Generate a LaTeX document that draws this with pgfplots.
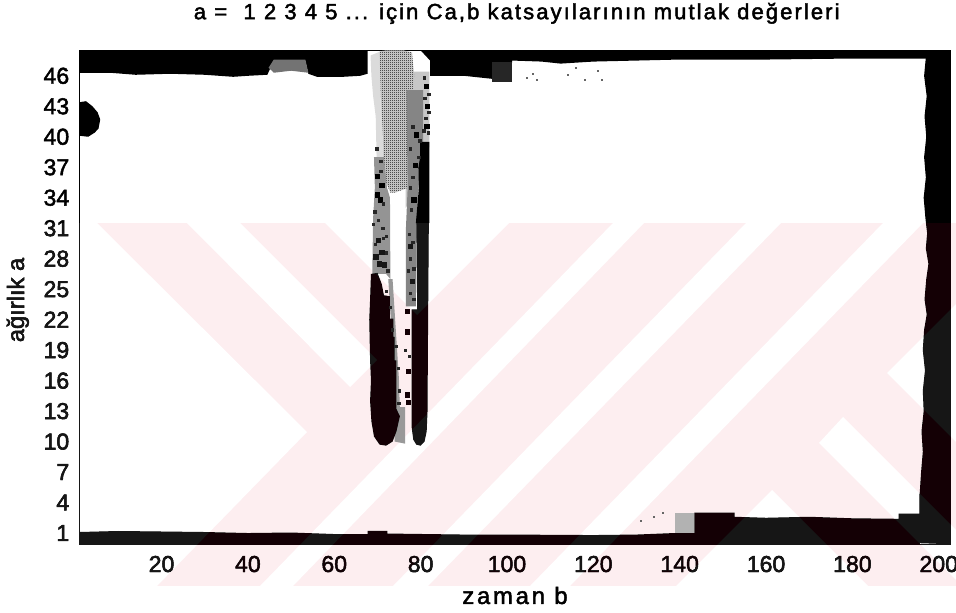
\documentclass[border=0pt]{standalone}
\usepackage{fontspec}
\usepackage{pgfplots}
\pgfplotsset{compat=1.18}
\usetikzlibrary{patterns}
\setmainfont{Liberation Sans}
\newfontfamily\tkf{Liberation Sans}
\newfontfamily\lblf[LetterSpace=9.5]{Liberation Sans}
\newfontfamily\lblxf[LetterSpace=12]{Liberation Sans}
\newcommand\heavy{\special{pdf:code 2 Tr 0.35 w}}
\newcommand\tk{\tkf\heavy}
\newcommand\lbl{\lblf\heavy}
\newcommand\lblx{\lblxf\heavy}
\pgfdeclarepatternformonly{stA}{\pgfpointorigin}{\pgfqpoint{1.5pt}{1.5pt}}{\pgfqpoint{1.5pt}{1.5pt}}{%
 \pgfpathrectangle{\pgfqpoint{0pt}{0pt}}{\pgfqpoint{.75pt}{.75pt}}%
 \pgfpathrectangle{\pgfqpoint{.75pt}{.75pt}}{\pgfqpoint{.75pt}{.75pt}}\pgfusepath{fill}}
\definecolor{wm}{HTML}{FDEEF0}
\definecolor{onpink}{HTML}{140005}
\definecolor{onwhite}{HTML}{161616}
\newcommand\whitecuts[1]{%
 \fill[#1] (-2,223)--(97,223)--(307,432)--(157,586)--(-2,586)--cycle;
 \fill[#1] (187,223)--(350,387)--(377,360)--(240,223)--cycle;
 \fill[#1] (325,223)--(509,223)--(417,315)--cycle;
 \fill[#1] (260,586)--(613,223)--(644,223)--(293,586)--cycle;
 \fill[#1] (393,586)--(746,223)--(781,223)--(428,586)--cycle;
 \fill[#1] (530,586)--(883,223)--(923,223)--(570,586)--cycle;
 \fill[#1] (772,490)--(676,586)--(868,586)--cycle;
 \fill[#1] (887,373)--(958,302)--(958,444)--cycle;
 \fill[#1] (819,443)--(843,417)--(958,532)--(958,586)--(962,586)--cycle;
}
\begin{document}
\begin{tikzpicture}
\useasboundingbox (0,0) rectangle (717pt,459pt);
\begin{scope}[x=.75pt,y=-.75pt,yshift=459pt]
\clip (0,0) rectangle (956,612);
\fill[wm] (0,223) rectangle (956,586);
\whitecuts{white}
\fill[white] (0,585.5) rectangle (956,612);
\end{scope}
\begin{axis}[
  at={(59.625pt,50.85pt)},anchor=south west,
  scale only axis,width=653.2pt,height=370.35pt,
  xmin=1,xmax=202.7,ymin=-0.1,ymax=48.5,
  xtick={20,40,...,200},ytick={1,4,...,46},
  major tick length=0pt,
  axis line style={black,line width=.8pt},
  /pgf/number format/assume math mode=true,
  ticklabel style={font=\tk\fontsize{17.3}{20}\selectfont,inner sep=0pt},
  xticklabel style={anchor=base,yshift=-20.85pt},
  yticklabel style={anchor=east,xshift=-7.5pt},
  title={a =\ \ 1 2 3 4 5 ... için Ca,b katsayılarının mutlak değerleri},
  title style={at={(axis description cs:0.502,1.047)},anchor=base,yshift=0pt,font=\lbl\fontsize{16.5}{18}\selectfont},
  xlabel={zaman b},
  xlabel style={at={(axis description cs:0.5,-0.121)},anchor=base,font=\lblx\fontsize{17.8}{18}\selectfont},
  ylabel={ağırlık a},
  ylabel style={at={(axis description cs:-0.0637,0.4945)},anchor=base,font=\tk\fontsize{17.8}{18}\selectfont},
  every axis plot/.append style={forget plot,draw=none},
]
% faint fringe of the central ridge
\addplot[fill=black!14] coordinates {(68.4,48)(70.7,48.4)(72,34)(69.4,34)(69.8,38)(69.6,42)(69,44)(68.6,46)};
\addplot[fill=black!22] coordinates {(76.5,46.4)(82,46.4)(82,39)(80,35)(76.5,33)};
% core stipple
\addplot[fill=black!12] coordinates {(70.5,48.4)(72,48.5)(76,48.5)(78,48.3)(78.5,46)(78,44)(77.5,38)(77.3,35)(74,34.5)(73,34.5)(71.5,36)(71.3,40)(70.8,44)};
\addplot[pattern=stA] coordinates {(70.5,48.4)(72,48.5)(76,48.5)(78,48.3)(78.5,46)(78,44)(77.5,38)(77.3,35)(74,34.5)(73,34.5)(71.5,36)(71.3,40)(70.8,44)};
% flanks of medium density
\addplot[fill=black!42] coordinates {(69.2,38)(71.5,38)(72.2,35)(72.9,34)(73,26)(72,26.5)(68.8,26.5)(69,32)(69.4,35)};
\addplot[fill=black!48] coordinates {(76.7,44.6)(80.6,44.6)(80.6,39)(79.5,35)(79,31)(78.9,23.3)(76.6,23.3)(76.6,31)(77,35)};
\addplot[fill=black!40] coordinates {(72.5,26)(73.5,26)(75,16)(75.2,13)(74.2,13)(74,16)};
\addplot[fill=black!40] coordinates {(74,13.4)(76.4,13.4)(76.4,9.8)(74,10)};
% mottled dark grains of the flanks
\addplot[only marks,mark=square*,mark size=1.6pt,black,draw=black] coordinates {
(69.9,36.1)(71,35.2)(70,34.3)(70.6,33.8)(70.2,29.8)(71,28.6)(69.6,28.2)(70.4,27.5)(71.6,27.4)
(79,40.2)(78.7,37.2)(78.4,33.8)(77.6,29.2)(78,25.8)
(81.3,45)(81.6,43)(81.4,41)(76.9,22.8)(76.9,20.8)(77.1,16.9)(76.9,14.6)(77.2,13.9)};
\addplot[only marks,mark=square*,mark size=0.9pt,black!85,draw=black!85] coordinates {
(70.8,36.6)(71.4,33.4)(69.4,32.6)(70.2,31.8)(71.2,31)(72,30.2)(69,31.4)(69.5,29.4)(71.4,30)(72.4,26.8)(72,28.6)
(70.8,37.6)(69.8,38.8)(72,24.8)(73,23.2)(73.4,21)(74.2,19.4)(74.8,17.2)(75,15)(74.9,13.8)
(78.2,41)(79.8,39.6)(77.6,38.8)(79.6,38)(78.2,36)(77.6,35)(77.9,32.8)(77.4,30.4)(78.2,29.6)(77.6,28)(78.4,27)(77.2,26.8)(77.6,24.6)(78.4,24)
(80.8,45.8)(81.9,44.2)(81,43.8)(81.9,42.4)(81.2,41.8)(81.8,40.4)(80.7,40.6)(76.4,19)(77.4,18.4)};
% dark stripes
\addplot[fill=black] coordinates {(68.5,26.5)(70,26.6)(71,25.5)(71.5,24.4)(72.9,24.3)(72.9,22.1)(73.7,22.1)(73.7,20.3)(74,20.3)(74,18)(74.4,18)(74.4,13.2)(75.2,12.5)(74.4,11)(73.5,10)(72,9.6)(70.5,9.7)(69.2,10.5)(68.6,12)(68.3,14)(68.5,16)(68.3,18)(68.1,22)(68.3,24)};
\addplot[fill=black] coordinates {(79,31.5)(81.9,31.5)(81.7,20)(81.6,13)(81.4,11)(80.9,10)(80,9.6)(79,9.7)(78.3,10.2)(77.9,11.5)(77.9,23)(79.2,23)};
\addplot[fill=black] coordinates {(79.9,39.5)(82,39.5)(82,31.5)(78.9,31.5)(79.2,33)(79.6,35)(79.5,37)(79.9,38)};
% top band
\addplot[fill=black] coordinates {(1,48.5)(67.7,48.5)(67.7,46.2)(66,46)(62,45.9)(58,45.9)(56,45.9)(54,46.2)(53.3,47.5)(46,47.5)(44.5,46.1)(40,46)(36.6,45.9)(30,46.1)(22,46.2)(14,46.1)(8,46.3)(1,46.3)};
\addplot[fill=black] coordinates {(80,48.5)(202.7,48.5)(202.7,47.7)(180,47.7)(160,47.6)(140,47.6)(120,47.4)(112.4,47.2)(108,47.4)(101.2,47.5)(101.2,47.3)(96.6,45.7)(90,46)(82.2,46)(82.2,47.5)};
\addplot[fill=black!55] coordinates {(46,47.6)(53.3,47.6)(54,46.3)(50,46.5)(46,46.3)(44.8,46.8)};
\addplot[fill=black!85] coordinates {(96.6,47.4)(101.2,47.4)(101.2,45.4)(96.6,45.4)};
% left blob
\addplot[fill=black] coordinates {(1,43.4)(2.5,43.5)(4,43)(5.2,42.4)(5.8,41.7)(5.4,40.8)(4.5,40.4)(3,40)(1,40.1)};
% right band
\addplot[fill=black] coordinates {(197,47.8)(196.6,46)(197.2,44)(196.7,42)(197.1,40)(196.6,38)(197,36)(196.5,34)(196.9,32)(197.3,30.5)(197,29)(197.6,27.5)(197.1,26)(196.7,24)(197.2,22.5)(196.6,21)(196.3,19)(196.8,17)(196.3,15)(196.5,13)(196,11)(196.3,9)(195.9,7)(195.6,5)(195.5,4.74)(195.5,0)(202.7,-0.1)(202.7,48.5)};
% bottom band
\addplot[fill=black] coordinates {(1,-0.1)(1,1.1)(10,1.2)(20,1.15)(30,1.1)(40,1)(50,1.05)(60,0.9)(67.7,0.9)(67.7,1.2)(72.3,1.2)(72.3,0.95)(90,0.85)(100,0.85)(120,0.8)(130,0.85)(138.8,1)(143.4,1)(143.4,3)(152.7,3)(152.7,2.6)(160,2.5)(170,2.6)(180,2.45)(190.7,2.4)(190.7,2.9)(195.6,2.9)(195.6,-0.1)};
\addplot[fill=black!30] coordinates {(138.8,3)(143.4,3)(143.4,1)(138.8,1)};
\addplot[only marks,mark=square*,mark size=.4pt,black!60,draw=black!60] coordinates {(104.5,45.8)(106,46.2)(107,45.6)(114,46.1)(116,46.8)(118,45.6)(121,46.5)(122,45.6)(136,3)(134,2.6)(131,2.2)};
\end{axis}
\begin{scope}[x=.75pt,y=-.75pt,yshift=459pt]
\clip (0,223) rectangle (956,586);
\begin{scope}[blend mode=lighten]
\fill[onpink] (0,223) rectangle (956,586);
\whitecuts{onwhite}
\end{scope}
\end{scope}
\end{tikzpicture}
\end{document}
